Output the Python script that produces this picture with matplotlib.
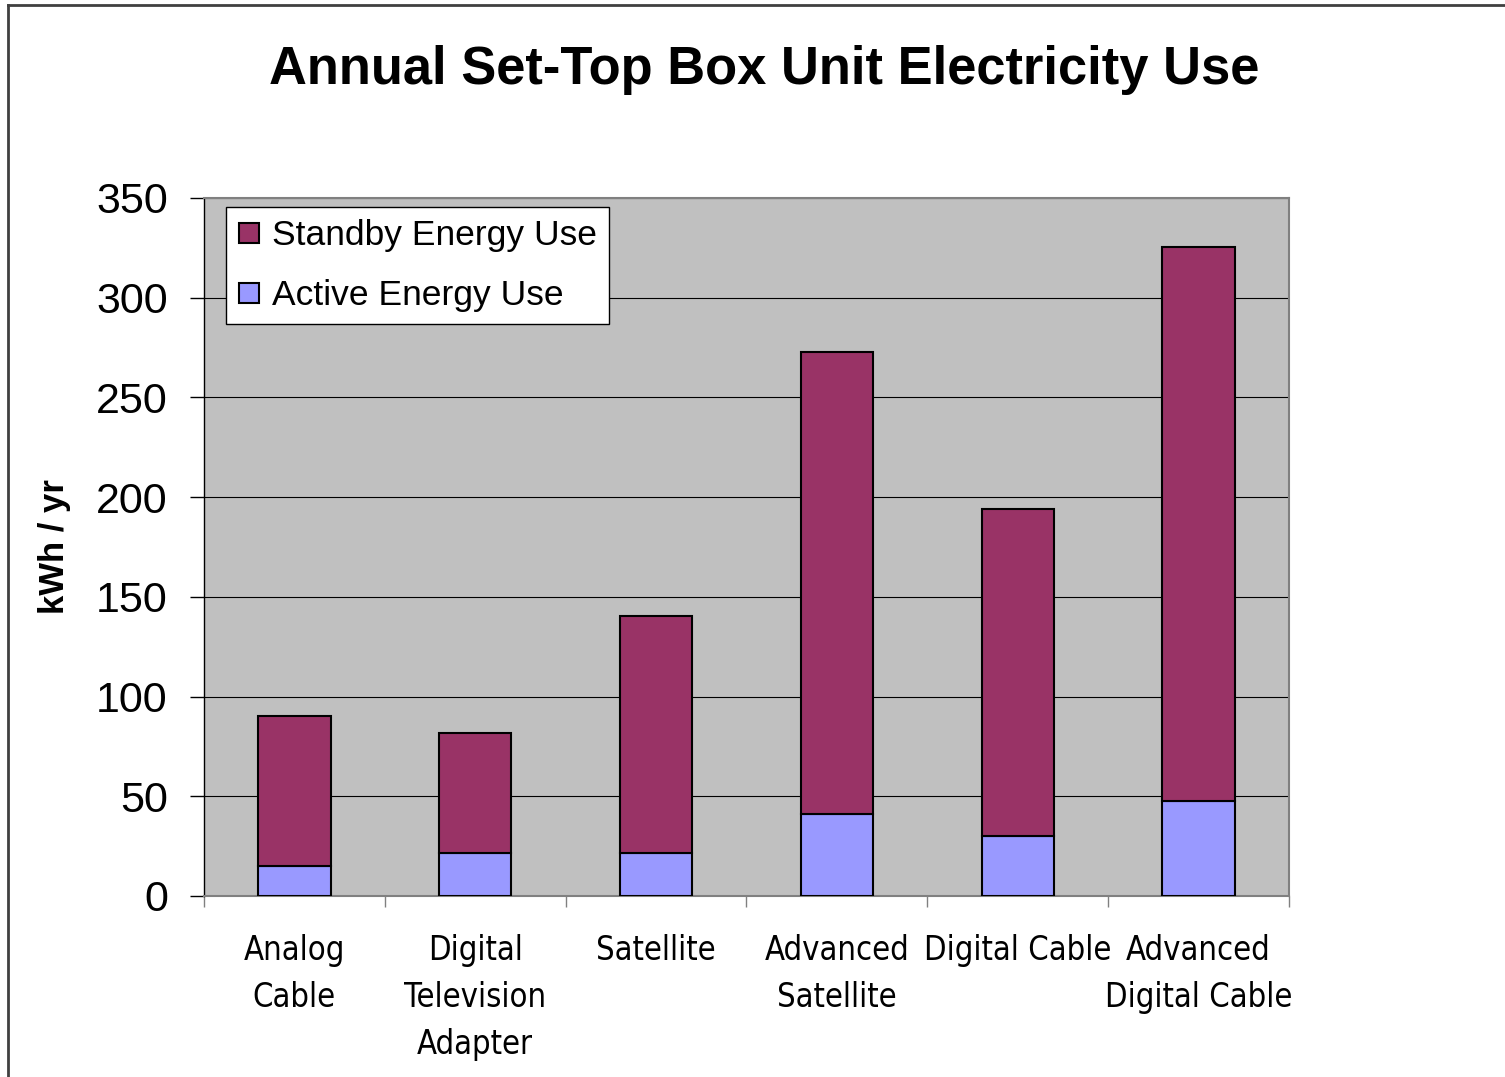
import matplotlib
matplotlib.use('Agg')
import matplotlib.pyplot as plt
from matplotlib.lines import Line2D
import numpy as np

# set-top box types and yearly energy use (kWh / yr)
categories = ['Analog\nCable', 'Digital\nTelevision\nAdapter', 'Satellite',
              'Advanced\nSatellite', 'Digital Cable', 'Advanced\nDigital Cable']
active = [15, 21.5, 21.5, 41, 30, 47.5]
total = [90, 81.5, 140.5, 273, 194, 325.5]
standby = [t - a for t, a in zip(total, active)]

plt.rcParams['font.family'] = ['Liberation Sans', 'DejaVu Sans']

fig = plt.figure(figsize=(15.05, 10.77), dpi=100)
ax = fig.add_axes([0.1355, 0.1681, 0.721, 0.6481])

x = np.arange(len(categories))
ax.bar(x, active, width=0.4, color='#9999FF', edgecolor='black', linewidth=1.5,
       label='Active Energy Use', zorder=3)
ax.bar(x, standby, width=0.4, bottom=active, color='#993366', edgecolor='black',
       linewidth=1.5, label='Standby Energy Use', zorder=3)

ax.set_facecolor('#C0C0C0')
ax.set_xlim(-0.5, len(categories) - 0.5)
ax.set_ylim(0, 350)
ax.set_yticks(range(0, 351, 50))
ax.yaxis.grid(True, color='black', linewidth=0.8, zorder=1)
ax.set_axisbelow(True)

for side in ['top', 'right', 'bottom']:
    ax.spines[side].set_color('#808080')
    ax.spines[side].set_linewidth(1.5)
ax.spines['left'].set_color('black')
ax.spines['left'].set_linewidth(1.0)

ax.tick_params(axis='y', direction='out', length=10, width=1, pad=16, labelsize=31)
ax.set_xticks(np.arange(len(categories) + 1) - 0.5)
ax.set_xticklabels([])
ax.tick_params(axis='x', direction='out', length=8, width=1, color='#808080')
for i, lab in enumerate(categories):
    ax.text(i, -19, lab, ha='center', va='top', fontsize=23.5, family='DejaVu Sans',
            fontstretch='condensed', linespacing=1.55, transform=ax.transData)

ax.set_ylabel('kWh / yr', fontsize=25, fontweight='bold', labelpad=18)
fig.text(0.5075, 0.935, 'Annual Set-Top Box Unit Electricity Use', ha='center',
         va='center', fontsize=37.8, fontweight='bold')

handles = [Line2D([], [], marker='s', linestyle='', markersize=15,
                  markerfacecolor='#993366', markeredgecolor='black', markeredgewidth=1.5),
           Line2D([], [], marker='s', linestyle='', markersize=15,
                  markerfacecolor='#9999FF', markeredgecolor='black', markeredgewidth=1.5)]
leg = ax.legend(handles, ['Standby Energy Use', 'Active Energy Use'], loc='upper left',
                bbox_to_anchor=(0.02, 0.987), fontsize=25.5, fancybox=False,
                framealpha=1, edgecolor='black', handlelength=0.6, handletextpad=0.35,
                borderpad=0.35, labelspacing=0.75, borderaxespad=0)
leg.get_frame().set_linewidth(1.0)

# outer chart frame (only left and top edges visible)
fig.add_artist(Line2D([8 / 1505, 8 / 1505], [0, 1 - 5 / 1077], color='#404040',
                      linewidth=2, transform=fig.transFigure))
fig.add_artist(Line2D([8 / 1505, 1], [1 - 5 / 1077, 1 - 5 / 1077], color='#404040',
                      linewidth=2, transform=fig.transFigure))

fig.savefig('out.png', dpi=100)
